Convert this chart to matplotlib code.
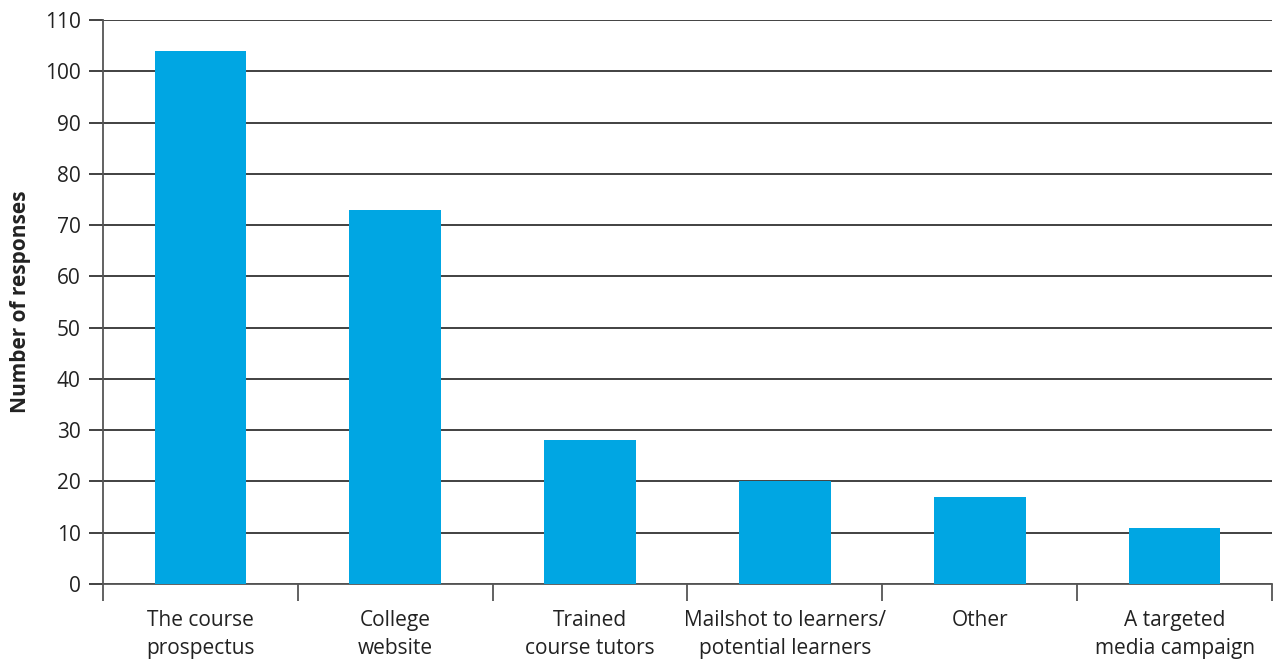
import matplotlib.pyplot as plt
import numpy as np

plt.rcParams['font.family'] = ['Open Sans', 'DejaVu Sans']

categories = ['The course\nprospectus', 'College\nwebsite', 'Trained\ncourse tutors',
              'Mailshot to learners/\npotential learners', 'Other', 'A targeted\nmedia campaign']
responses = [104, 73, 28, 20, 17, 11]
y_ticks = list(range(0, 111, 10))

fig = plt.figure(figsize=(12.73, 6.59), dpi=100)
ax = fig.add_axes([0.0809, 0.1138, 0.9183, 0.8559])

x = np.arange(len(categories))
ax.bar(x, responses, width=0.47, color='#00A6E3', zorder=3)

ax.set_xlim(-0.5, len(categories) - 0.5)
ax.set_ylim(0, 110)
ax.set_yticks(y_ticks)
ax.yaxis.grid(True, color='#333333', linewidth=1.3, zorder=1)
ax.tick_params(axis='y', length=10, width=1.3, color='#333333', labelsize=15, labelcolor='#222222', pad=6)

# ticks between categories, labels centred under bars
ax.set_xticks(np.arange(-0.5, len(categories), 1.0))
ax.set_xticklabels([])
ax.set_xticks(x, minor=True)
ax.set_xticklabels(categories, minor=True, fontsize=15, color='#222222', linespacing=1.42)
ax.tick_params(axis='x', which='major', length=12, width=1.3, color='#555555')
ax.tick_params(axis='x', which='minor', length=0, pad=19)

for side in ['top', 'right']:
    ax.spines[side].set_visible(False)
for side in ['left', 'bottom']:
    ax.spines[side].set_color('#555555')
    ax.spines[side].set_linewidth(1.3)

ax.set_ylabel('Number of responses', fontsize=15, fontweight='bold', color='#222222', labelpad=10)

fig.savefig('out.png', dpi=100)
